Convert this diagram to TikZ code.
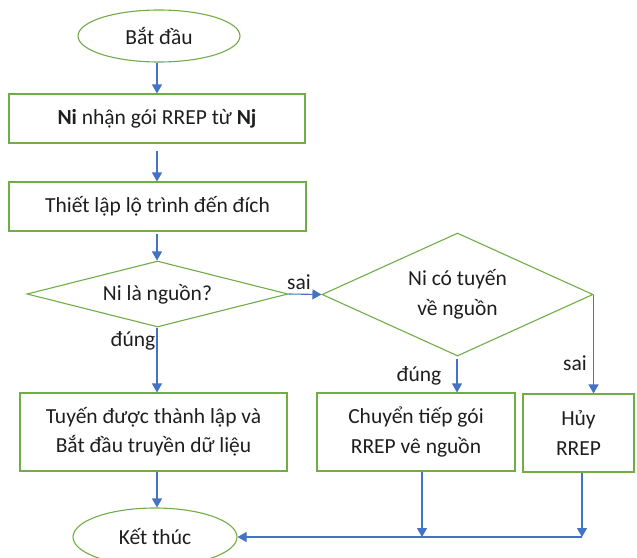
\documentclass[tikz,border=0pt]{standalone}
\usepackage{fontspec}
\setmainfont{Carlito}
\usetikzlibrary{shapes.geometric,arrows.meta}
\definecolor{boxgreen}{RGB}{112,173,71}
\definecolor{arrowblue}{RGB}{68,114,196}
\definecolor{txt}{RGB}{30,30,30}
\tikzset{
  base/.style={draw=boxgreen, line width=1.1pt, text=txt, inner sep=0pt,
    font=\fontsize{21.5}{29.5}\selectfont, align=center},
  stepbox/.style={base, rectangle},
  terminal/.style={base, ellipse},
  decision/.style={base, diamond},
  arr/.style={draw=arrowblue, line width=1.1pt, -{Triangle[length=9pt,width=10pt]}},
  lbl/.style={text=txt, font=\fontsize{21.5}{26}\selectfont, inner sep=0pt}
}
\begin{document}
\begin{tikzpicture}[x=1pt,y=-1pt]
\useasboundingbox (0,0) rectangle (637,557);

% main column
\node[terminal, minimum width=162pt, minimum height=52pt] (start) at (159,36) {Bắt đầu};
\node[stepbox, minimum width=296pt, minimum height=49pt] (recv) at (157,118.5)
  {\textbf{Ni} nhận gói RREP từ \textbf{Nj}};
\node[stepbox, minimum width=297pt, minimum height=49pt] (setup) at (157.5,206.5)
  {Thiết lập lộ trình đến đích};
\node[decision, minimum width=261pt, minimum height=66pt, aspect=5] (isrc) at (157.5,294)
  {Ni là nguồn?};
\node[stepbox, minimum width=267pt, minimum height=78pt] (route) at (153.5,432)
  {Tuyến được thành lập và\\Bắt đầu truyền dữ liệu};
\node[terminal, minimum width=164pt, minimum height=58pt] (stop) at (155,537) {Kết thúc};

% right branch
\node[decision, minimum width=271pt, minimum height=123pt, aspect=2.2] (hasroute) at (457.5,294.5)
  {Ni có tuyến\\về nguồn};
\node[stepbox, minimum width=198pt, minimum height=78pt] (fwd) at (416,432)
  {Chuyển tiếp gói\\RREP vê nguồn};
\node[stepbox, minimum width=111pt, minimum height=78pt] (drop) at (578.5,433)
  {Hủy\\RREP};

% junction points on the bottom line
\coordinate (j1) at (422,537);
\coordinate (j2) at (582,537);

% connectors
\draw[arr] (start.south -| 157,0) -- (recv.north -| 157,0);
\draw[arr] ([yshift=-7pt]recv.south -| 157,0) -- (setup.north -| 157,0);
\draw[arr] ([yshift=-2pt]setup.south -| 157,0) -- (isrc.north -| 157,0);
\draw[arr] (isrc.south -| 157,0) -- (route.north -| 157,0);
\draw[arr] (isrc.east) -- (hasroute.west);
\draw[arr] ([yshift=-2pt]hasroute.south -| 457,0) -- (fwd.north -| 457,0);
\draw[arr] (hasroute.east) -- (hasroute.east |- drop.north);
\draw[arr] (route.south -| 157,0) -- (stop.north -| 157,0);
\draw[arr] (fwd.south -| j1) -- (j1);
\draw[arr] (drop.south -| j2) -- (j2);
\draw[arr] (j2) -- (stop.east |- j2);

% branch labels
\node[lbl] (l1) at (299,282) {sai};
\node[lbl] (l2) at (133,341) {đúng};
\node[lbl] (l3) at (419,376) {đúng};
\node[lbl] (l4) at (575,363) {sai};
\end{tikzpicture}
\end{document}
